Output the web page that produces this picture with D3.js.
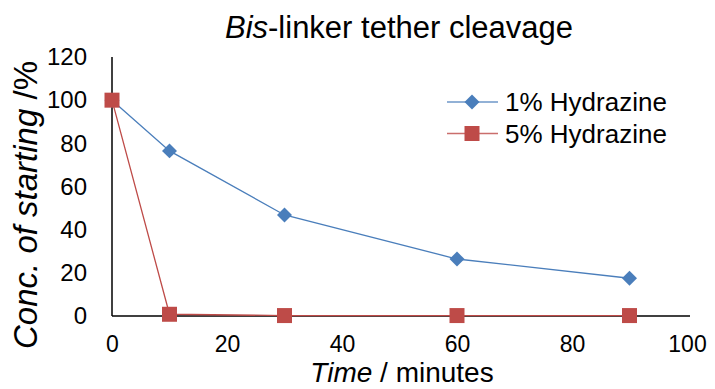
<!DOCTYPE html>
<html>
<head>
<meta charset="utf-8">
<script src="https://cdn.jsdelivr.net/npm/d3@7"></script>
<style>
  html, body { margin: 0; padding: 0; background: #fff; }
  svg { display: block; font-family: "Liberation Sans", Arial, sans-serif; }
</style>
</head>
<body>
<svg id="chart" width="715" height="389"></svg>
<script>
// Sampling times (minutes)
const times = [0, 10, 30, 60, 90];
// Concentration of starting material (%)
const hydrazine1 = [100, 76.5, 46.8, 26.4, 17.5];
const hydrazine5 = [100, 0.8, 0.2, 0.2, 0.2];
const seriesNames = ["1% Hydrazine", "5% Hydrazine"];
const seriesColors = ["#4a7ebb", "#be4b48"];
const xTicks = [0, 20, 40, 60, 80, 100];
const yTicks = [0, 20, 40, 60, 80, 100, 120];

const svg = d3.select("#chart");
const x = d3.scaleLinear().domain([0, 100]).range([112, 687]);
const y = d3.scaleLinear().domain([0, 120]).range([316, 57]);

// Axes
const xAxis = d3.axisBottom(x).tickValues(xTicks).tickSize(0).tickPadding(0);
const yAxis = d3.axisLeft(y).tickValues(yTicks).tickSize(0).tickPadding(25);

const gx = svg.append("g").attr("transform", `translate(0,${y(0)})`).call(xAxis);
gx.select(".domain").attr("stroke", "#000").attr("stroke-width", 1.5).attr("d", `M${x(0)},0H${x(100) + 3}`);
gx.selectAll("text").attr("font-size", 23).attr("fill", "#000").attr("y", 36).attr("dy", null);

const gy = svg.append("g").attr("transform", `translate(${x(0)},0)`).call(yAxis);
gy.select(".domain").attr("stroke", "#000").attr("stroke-width", 1.5).attr("d", `M0,${y(0)}V${y(120)}`);
gy.selectAll("text").attr("font-size", 24).attr("fill", "#000");

// Marker shapes: rotated square for the diamond, plain square
const markers = {
  diamond: { d: d3.symbol().type(d3.symbolSquare).size(112)(), rot: 45 },
  square: { d: d3.symbol().type(d3.symbolSquare).size(225)(), rot: 0 }
};

const series = [
  { name: seriesNames[0], values: hydrazine1, color: seriesColors[0], marker: markers.diamond },
  { name: seriesNames[1], values: hydrazine5, color: seriesColors[1], marker: markers.square }
];

const line = d3.line().x(d => x(d[0])).y(d => y(d[1]));

series.forEach(s => {
  const pts = times.map((t, i) => [t, s.values[i]]);
  svg.append("path").datum(pts)
    .attr("d", line).attr("fill", "none")
    .attr("stroke", s.color).attr("stroke-width", 1.3);
  svg.append("g").selectAll("path").data(pts).join("path")
    .attr("transform", d => `translate(${x(d[0])},${y(d[1])}) rotate(${s.marker.rot})`)
    .attr("d", s.marker.d)
    .attr("fill", s.color);
});

// Legend
const legend = svg.append("g");
series.forEach((s, i) => {
  const ly = 102 + i * 31.5;
  legend.append("line").attr("x1", 447).attr("x2", 498).attr("y1", ly).attr("y2", ly)
    .attr("stroke", s.color).attr("stroke-width", 1.3).attr("opacity", 0.8);
  legend.append("path").attr("transform", `translate(472,${ly}) rotate(${s.marker.rot})`)
    .attr("d", s.marker.d).attr("fill", s.color);
  legend.append("text").attr("x", 505).attr("y", ly).attr("dy", "0.36em")
    .attr("font-size", 26).attr("fill", "#000").text(s.name);
});

// Title
const title = svg.append("text").attr("x", 399).attr("y", 38)
  .attr("text-anchor", "middle").attr("font-size", 31).attr("fill", "#000");
title.append("tspan").attr("font-style", "italic").text("Bis");
title.append("tspan").text("-linker tether cleavage");

// X axis title
const xt = svg.append("text").attr("x", 402).attr("y", 382)
  .attr("text-anchor", "middle").attr("font-size", 28).attr("fill", "#000");
xt.append("tspan").attr("font-style", "italic").text("Time");
xt.append("tspan").text(" / minutes");

// Y axis title
const yt = svg.append("text").attr("transform", "translate(37,205) rotate(-90)")
  .attr("text-anchor", "middle").attr("font-size", 33).attr("fill", "#000");
yt.append("tspan").attr("font-style", "italic").text("Conc. of starting");
yt.append("tspan").text(" /%");
</script>
</body>
</html>
